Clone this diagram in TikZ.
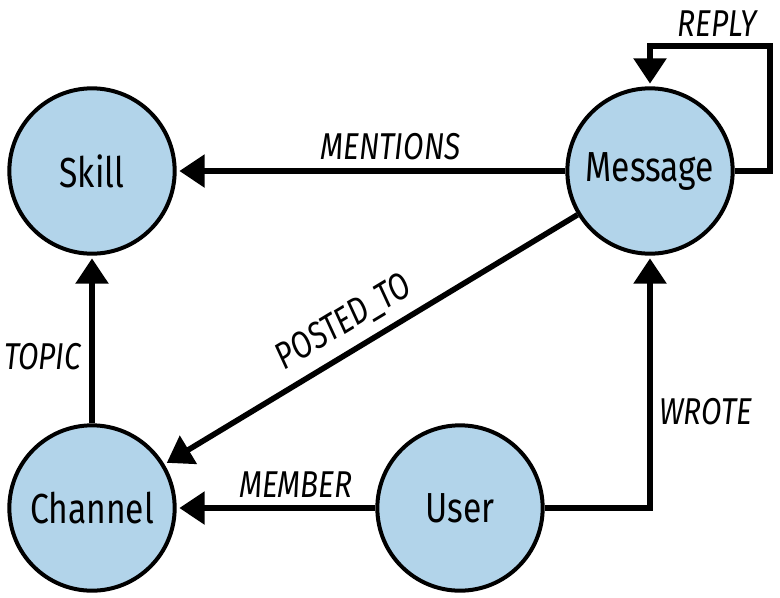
\documentclass[tikz,border=0pt]{standalone}
\usepackage{fontspec}
\setmainfont{Fira Sans}[FakeStretch=0.8]
\usetikzlibrary{positioning, arrows.meta}
\definecolor{EntityColor}{RGB}{178,212,234}

\begin{document}
\begin{tikzpicture}[
    x=0.75pt, y=-0.75pt,
    entity/.style={circle, draw, line width=3pt, fill=EntityColor, minimum size=124pt, inner sep=0pt, font=\fontsize{31.5}{31.5}\selectfont},
    rel/.style={-{Triangle[length=19pt, width=24pt]}, line width=4.2pt, shorten >=2pt},
    rellabel/.style={font=\fontsize{28}{28}\selectfont\itshape, inner sep=2pt},
]
\useasboundingbox (0,0) rectangle (780,597);

% Entities
\node[entity] (skill) at (92,171) {Skill};
\node[entity] (msg) at (650,171) {Message};
\node[entity] (chan) at (92,508) {Channel};
\node[entity] (user) at (460,508) {User};

% Corner of the self loop
\coordinate (loopR) at (770,171);
\coordinate (loopT) at (650,46);

% Relationships
\draw[rel] (msg) -- node[rellabel, above=4pt, pos=0.45] {MENTIONS} (skill);
\draw[rel] (msg) -- node[rellabel, sloped, above=5.5pt, pos=0.53] {POSTED\_TO} (chan);
\draw[rel] (chan) -- node[rellabel, left=4pt, pos=0.4] {TOPIC} (skill);
\draw[rel] (user) -- node[rellabel, above=4pt, pos=0.4] {MEMBER} (chan);
\draw[rel] (user) -| node[rellabel, right=3pt, pos=0.69] {WROTE} (msg);
\draw[rel] (msg.east) -- (loopR) |- node[rellabel, above=3pt, pos=0.72] {REPLY} (loopT) -- (msg.north);

\end{tikzpicture}
\end{document}
